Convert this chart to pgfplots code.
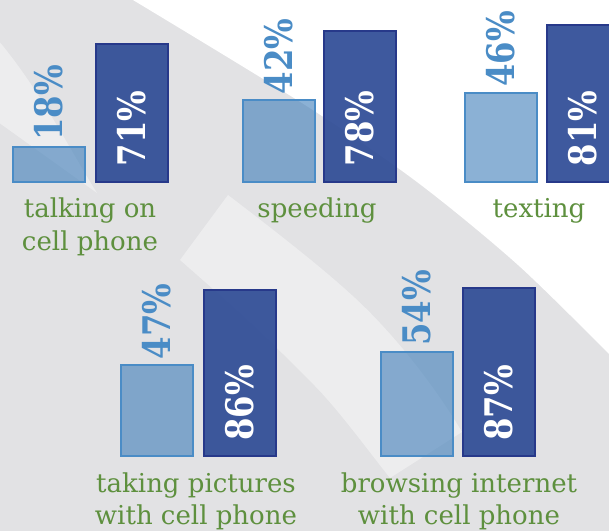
\documentclass[border=0pt]{standalone}
\usepackage{fontspec}
\setmainfont{DejaVu Serif}
\newfontfamily\numfont{DejaVu Serif}[FakeStretch=0.85]
\usepackage{pgfplots}
\pgfplotsset{compat=1.18}
\usepackage{pgfplotstable}

\definecolor{bggray}{HTML}{E2E2E4}
\definecolor{bandgray}{HTML}{EDEDEE}
\definecolor{lightfill}{HTML}{3E7DB9}
\definecolor{lightline}{HTML}{4A8CC6}
\definecolor{darkfill}{HTML}{2A4894}
\definecolor{darkline}{HTML}{27398A}
\definecolor{labgreen}{HTML}{5E903E}
\definecolor{numblue}{HTML}{4A8CC6}

% bar centres (pt), light = first value, dark = second value
\pgfplotstableread{
xl    light xd    dark
49    18    132   71
278.5 42    360   78
500.5 46    583   81
}\toprow
\pgfplotstableread{
xl    light xd    dark
156.5 47    239.5 86
416.5 54    499   87
}\botrow

% two-line category label, baseline on the first line
\newcommand{\cat}[1]{\begin{tabular}[t]{@{}c@{}}#1\end{tabular}}

\pgfplotsset{
  rowaxis/.style={
    x=1pt, y=1.93pt,
    xmin=0, xmax=609, ymin=0, ymax=94,
    clip=false,
    axis line style={draw=none},
    ytick=\empty,
    major tick length=0pt,
    xtick style={draw=none},
    xticklabel style={font=\fontsize{26}{32.5}\selectfont, text=labgreen,
      anchor=base, inner sep=0pt, yshift=-36pt},
    anchor=south west,
  },
  lightbar/.style={ybar, bar width=72, bar shift=0pt, fill=lightfill,
    fill opacity=0.6, draw=lightline, line width=2pt},
  darkbar/.style={ybar, bar width=72, bar shift=0pt, fill=darkfill,
    fill opacity=0.9, draw=darkline, line width=2pt},
  toplab/.style={draw=none, mark=none, point meta=explicit symbolic,
    nodes near coords={\numfont\bfseries\pgfplotspointmeta\%},
    every node near coord/.style={rotate=90, anchor=west, inner xsep=6pt,
      inner ysep=0pt, text=numblue, text opacity=1,
      font=\fontsize{38}{38}\selectfont}},
  baselab/.style={draw=none, mark=none, point meta=explicit symbolic,
    nodes near coords={\numfont\bfseries\pgfplotspointmeta\%},
    every node near coord/.style={rotate=90, anchor=west, inner xsep=15pt,
      inner ysep=0pt, text=white, text opacity=1,
      font=\fontsize{38}{38}\selectfont}},
}

\begin{document}
\begin{tikzpicture}
\useasboundingbox (0,0) rectangle (609pt,531pt);
\clip (0,0) rectangle (609pt,531pt);
\fill[bggray] (0,0) rectangle (609pt,531pt);
% background swooshes, pixel coordinates measured from the top
\begin{scope}[shift={(0pt,531pt)}, x=1pt, y=-1pt]
  \fill[white] plot[smooth] coordinates {(128,-3) (305,105) (417,182) (518,265) (612,357)}
    -- (612,-3) -- cycle;
  \fill[bandgray] (-2,40) .. controls (40,90) and (70,150) .. (97,193) -- (-2,122) -- cycle;
  \fill[bandgray] (228,195) .. controls (300,250) and (350,290) .. (380,323)
    .. controls (410,355) and (440,395) .. (462,432) -- (390,478)
    .. controls (360,440) and (335,405) .. (307,378)
    .. controls (260,330) and (220,295) .. (180,260) -- cycle;
\end{scope}

\begin{axis}[rowaxis, at={(0pt,349.5pt)},
  xtick={90,317,539},
  xticklabels={{\cat{talking on\\cell phone}},{speeding},{texting}}]
\addplot[lightbar] table[x=xl, y=light] {\toprow};
\addplot[darkbar] table[x=xd, y=dark] {\toprow};
\addplot[toplab] table[x=xl, y=light, meta=light] {\toprow};
\addplot[baselab] table[x=xd, y expr=0, meta=dark] {\toprow};
\end{axis}

\begin{axis}[rowaxis, at={(0pt,75pt)},
  xtick={196,459},
  xticklabels={{\cat{taking pictures\\with cell phone}},{\cat{browsing internet\\with cell phone}}}]
\addplot[lightbar] table[x=xl, y=light] {\botrow};
\addplot[darkbar] table[x=xd, y=dark] {\botrow};
\addplot[toplab] table[x=xl, y=light, meta=light] {\botrow};
\addplot[baselab] table[x=xd, y expr=0, meta=dark] {\botrow};
\end{axis}
\end{tikzpicture}
\end{document}
